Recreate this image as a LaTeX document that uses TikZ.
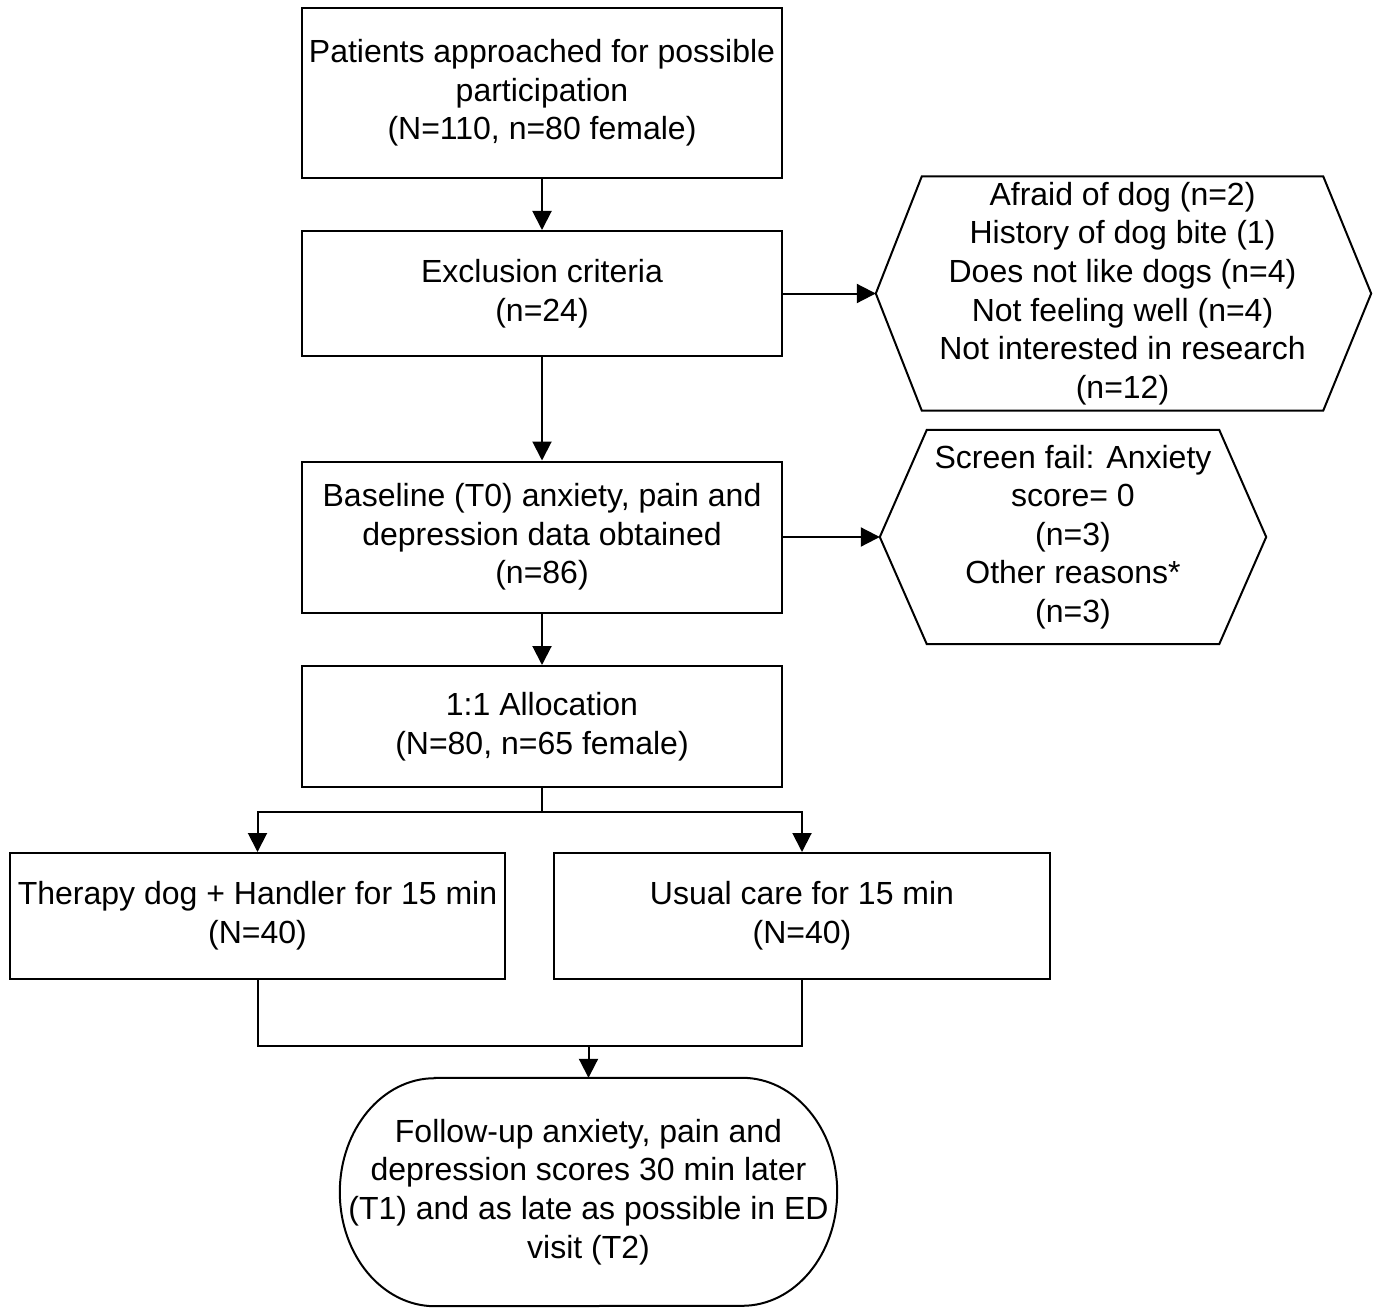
\documentclass[tikz,border=0pt]{standalone}
\usepackage{fontspec}
\setmainfont{Liberation Sans}
\usetikzlibrary{
  calc,
  positioning,
  arrows.meta
}

\begin{document}
\begin{tikzpicture}[x=1pt, y=1pt, >={Triangle[length=19pt,width=19pt]}]
  \tikzset{
    flowtext/.style={
      align=center, inner sep=0pt,
      font=\fontsize{32}{38.6}\selectfont
    },
    flowbox/.style={
      flowtext, draw, line width=2pt, minimum width=480pt
    },
    link/.style={line width=2pt},
  }

  \useasboundingbox (0,0) rectangle (1373,-1308);

  % main column
  \node[flowbox, minimum height=170pt] (approach) at (542,-93)
    {Patients approached for possible\\participation\\(N=110, n=80 female)};
  \node[flowbox, minimum height=125pt] (excl) at (542,-293.5)
    {Exclusion criteria\\(n=24)};
  \node[flowbox, minimum height=151pt] (base) at (542,-537)
    {Baseline (T0) anxiety, pain and\\depression data obtained\\(n=86)};
  \node[flowbox, minimum height=121pt] (alloc) at (542,-726.5)
    {1:1 Allocation\\(N=80, n=65 female)};

  % two arms
  \node[flowbox, minimum width=495pt, minimum height=126pt] (dog) at (257.5,-916)
    {Therapy dog + Handler for 15 min\\(N=40)};
  \node[flowbox, minimum width=496pt, minimum height=126pt] (usual) at (802,-916)
    {Usual care for 15 min\\(N=40)};

  % side hexagons
  \node[flowtext, minimum width=401pt, minimum height=234pt] (reasons) at (1122.5,-293.5)
    {Afraid of dog (n=2)\\History of dog bite (1)\\Does not like dogs (n=4)\\Not feeling well (n=4)\\Not interested in research\\(n=12)};
  \coordinate (reasons tip) at ($(reasons.west)+(-46,0)$);
  \draw[link, line join=miter] (reasons.north west) -- (reasons.north east)
    -- ($(reasons.east)+(48,0)$) -- (reasons.south east)
    -- (reasons.south west) -- (reasons tip) -- cycle;

  \node[flowtext, minimum width=292pt, minimum height=214pt] (fail) at (1073,-537)
    {Screen fail: Anxiety\\score= 0\\(n=3)\\Other reasons*\\(n=3)};
  \coordinate (fail tip) at ($(fail.west)+(-47,0)$);
  \draw[link, line join=miter] (fail.north west) -- (fail.north east)
    -- ($(fail.east)+(47,0)$) -- (fail.south east)
    -- (fail.south west) -- (fail tip) -- cycle;

  % terminal
  \node[flowtext, minimum width=497pt, minimum height=228pt] (follow) at (588.5,-1192)
    {Follow-up anxiety, pain and\\depression scores 30 min later\\(T1) and as late as possible in ED\\visit (T2)};
  \draw[link] ($(follow.north west)+(95,0)$) -- ($(follow.north east)+(-95,0)$)
    arc[start angle=90, end angle=-90, x radius=95pt, y radius=114pt]
    -- ($(follow.south west)+(95,0)$)
    arc[start angle=270, end angle=90, x radius=95pt, y radius=114pt] -- cycle;

  % connectors
  \draw[link, ->] (approach) -- (excl);
  \draw[link, ->] (excl) -- (base);
  \draw[link, ->] (base) -- (alloc);
  \draw[link, ->] (excl.east) -- (reasons tip);
  \draw[link, ->] (base.east) -- (fail tip);

  \draw[link] (alloc.south) -- ++(0,-24) coordinate (split);
  \draw[link, ->] (split) -| (dog.north);
  \draw[link, ->] (split) -| (usual.north);

  \draw[link] (dog.south) -- ++(0,-66) coordinate (join) -| (usual.south);
  \draw[link, ->] (follow.north |- join) -- (follow.north);
\end{tikzpicture}
\end{document}
